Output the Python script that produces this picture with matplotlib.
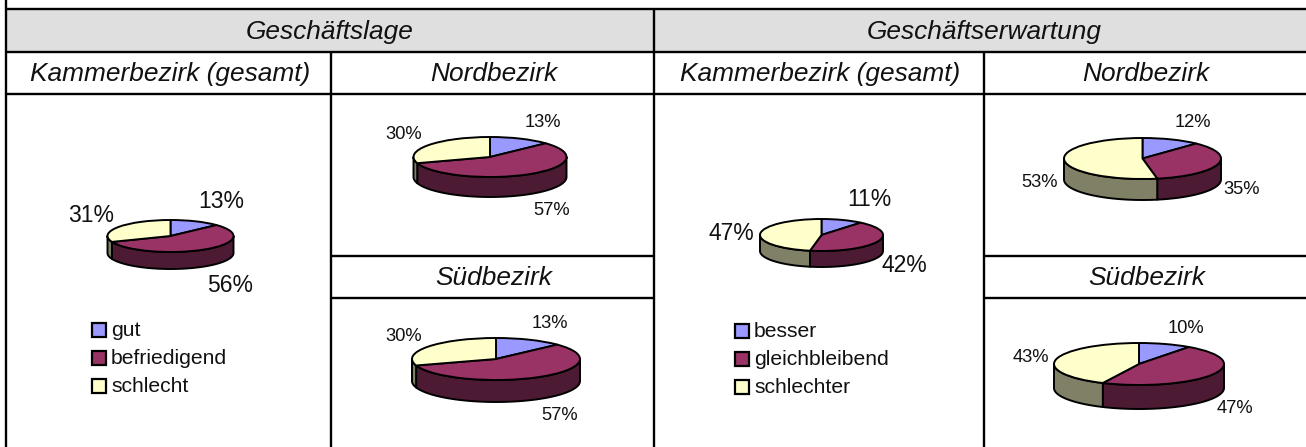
import numpy as np
import matplotlib
matplotlib.use("Agg")
import matplotlib.pyplot as plt
from matplotlib.patches import Rectangle

plt.rcParams['font.family'] = ['Liberation Sans', 'DejaVu Sans']

W, H = 1306, 447

section_titles = ["Geschäftslage", "Geschäftserwartung"]
region_titles = ["Kammerbezirk (gesamt)", "Nordbezirk", "Südbezirk"]

lage_gesamt = [13, 56, 31]
lage_nord = [13, 57, 30]
lage_sued = [13, 57, 30]
erw_gesamt = [11, 42, 47]
erw_nord = [12, 35, 53]
erw_sued = [10, 47, 43]

legend_lage = ["gut", "befriedigend", "schlecht"]
legend_erw = ["besser", "gleichbleibend", "schlechter"]

top_colors = ["#9999FF", "#993366", "#FFFFCC"]
side_colors = ["#4D4D80", "#4D1A33", "#808066"]

fig = plt.figure(figsize=(W / 100, H / 100), dpi=100, facecolor="white")
bg = fig.add_axes([0, 0, 1, 1])
bg.set_xlim(0, W)
bg.set_ylim(H, 0)
bg.axis("off")

LW = 1.7
XL, X1, X2, X3, XR = 6, 331, 654, 984, 1306
Y0, Y1, Y2, Y3, Y4, YB = 9, 52, 94, 256, 298, 447

bg.add_patch(Rectangle((XL, Y0), XR - XL, Y1 - Y0, fc="#DFDFDF", ec="none"))
bg.plot([XL, XL], [0, YB], color="black", lw=LW, solid_capstyle="butt")
bg.plot([X2, X2], [Y0, YB], color="black", lw=LW, solid_capstyle="butt")
for x in (X1, X3):
    bg.plot([x, x], [Y1, YB], color="black", lw=LW, solid_capstyle="butt")
for y in (Y0, Y1, Y2):
    bg.plot([XL, XR], [y, y], color="black", lw=LW, solid_capstyle="butt")
for y in (Y3, Y4):
    bg.plot([X1, X2], [y, y], color="black", lw=LW, solid_capstyle="butt")
    bg.plot([X3, XR], [y, y], color="black", lw=LW, solid_capstyle="butt")

HEAD = 18.9


def head(x, y, s):
    bg.text(x, y, s, ha="center", va="center", style="italic", fontsize=HEAD, color="#111111")


head(330, 32, section_titles[0])
head(984, 32, section_titles[1])
head(170, 74, region_titles[0])
head(494, 74, region_titles[1])
head(820, 74, region_titles[0])
head(1146, 74, region_titles[1])
head(494, 278, region_titles[2])
head(1147, 278, region_titles[2])


def pie3d(values, cx, cy, rx, ry, depth):
    """Flat ellipse pie with a visible rim, in pixel geometry."""
    pad = 4
    left = cx - rx - pad
    right = cx + rx + pad
    top = cy - ry - pad
    bottom = cy + ry + depth + pad
    ax = fig.add_axes([left / W, 1 - bottom / H, (right - left) / W, (bottom - top) / H])
    ax.pie(values, startangle=90, counterclock=False, colors=top_colors, radius=1,
           wedgeprops=dict(edgecolor="black", linewidth=1.4, joinstyle="round", zorder=3))
    ax.set_aspect("auto")
    ax.set_xlim(-(rx + pad) / rx, (rx + pad) / rx)
    ax.set_ylim(-(ry + depth + pad) / ry, (ry + pad) / ry)
    ax.axis("off")
    d = depth / ry
    edges = np.concatenate([[0], np.cumsum(values)]) / np.sum(values) * 2 * np.pi
    for i, colour in enumerate(side_colors):
        a = max(edges[i], np.pi / 2)
        b = min(edges[i + 1], 3 * np.pi / 2)
        if b <= a:
            continue
        t = np.linspace(a, b, 80)
        xs, ys = np.sin(t), np.cos(t)
        ax.fill(np.r_[xs, xs[::-1]], np.r_[ys, ys[::-1] - d], fc=colour, ec="black",
                lw=1.4, zorder=1, joinstyle="round")


pie3d(lage_gesamt, 170.5, 236, 63, 16, 17)
pie3d(lage_nord, 490, 157, 76.5, 20, 20)
pie3d(lage_sued, 496, 359, 84, 21, 22)
pie3d(erw_gesamt, 821.5, 235, 61.5, 16, 16)
pie3d(erw_nord, 1142.5, 158.5, 78.5, 20.5, 21)
pie3d(erw_sued, 1139, 364, 85, 21, 24)

BIG, SMALL = 16.5, 13.2
labels = [
    (lage_gesamt, [(221.5, 202), (230, 286), (91.5, 215)], BIG),
    (lage_nord, [(543, 122.5), (551.5, 210.5), (404, 134.5)], SMALL),
    (lage_sued, [(550, 323.5), (560, 415.5), (404, 336.5)], SMALL),
    (erw_gesamt, [(869, 200), (904.5, 266), (731.5, 233)], BIG),
    (erw_nord, [(1193, 122.5), (1241.5, 189.5), (1040, 182.5)], SMALL),
    (erw_sued, [(1186, 328.5), (1235, 408.5), (1031, 357.5)], SMALL),
]
for vals, pos, size in labels:
    for v, (x, y) in zip(vals, pos):
        bg.text(x, y, f"{v}%", ha="center", va="center", fontsize=size, color="#111111")


def legend(names, x, ys):
    for name, y, top in zip(names, ys, top_colors):
        bg.add_patch(Rectangle((x, y - 7), 14, 14, fc=top, ec="black", lw=1.6))
        bg.text(x + 19, y + 0.5, name, ha="left", va="center", fontsize=15.2, color="#111111")


legend(legend_lage, 92, [330, 358, 386])
legend(legend_erw, 735, [331, 359, 387])

fig.savefig("out.png", dpi=100)
